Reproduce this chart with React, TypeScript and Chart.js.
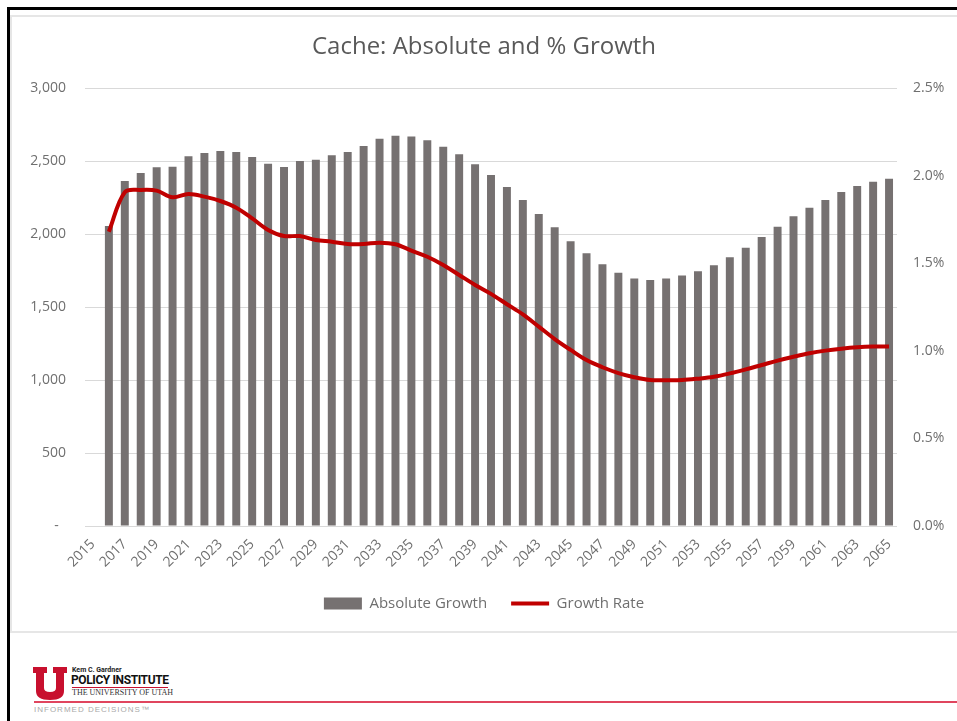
import React, { useEffect, useRef } from "react";
import { Chart, registerables } from "chart.js";

Chart.register(...registerables);

const years = [
  "2015", "2016", "2017", "2018", "2019", "2020", "2021", "2022", "2023", "2024",
  "2025", "2026", "2027", "2028", "2029", "2030", "2031", "2032", "2033", "2034",
  "2035", "2036", "2037", "2038", "2039", "2040", "2041", "2042", "2043", "2044",
  "2045", "2046", "2047", "2048", "2049", "2050", "2051", "2052", "2053", "2054",
  "2055", "2056", "2057", "2058", "2059", "2060", "2061", "2062", "2063", "2064",
  "2065",
];

const absoluteGrowth = [
  null, 2055, 2363, 2418, 2457, 2461, 2532, 2555, 2568, 2562,
  2527, 2482, 2459, 2500, 2509, 2539, 2562, 2603, 2653, 2673,
  2667, 2642, 2598, 2546, 2477, 2404, 2322, 2233, 2137, 2046,
  1950, 1868, 1792, 1735, 1695, 1685, 1696, 1715, 1745, 1786,
  1840, 1906, 1979, 2050, 2121, 2180, 2233, 2288, 2329, 2358,
  2379,
];

const growthRate = [
  null, 1.68, 1.905, 1.918, 1.914, 1.876, 1.895, 1.88, 1.855, 1.817,
  1.756, 1.69, 1.655, 1.655, 1.632, 1.623, 1.61, 1.61, 1.617, 1.608,
  1.572, 1.537, 1.49, 1.433, 1.376, 1.325, 1.266, 1.208, 1.138, 1.067,
  1.005, 0.947, 0.906, 0.873, 0.849, 0.833, 0.832, 0.833, 0.841, 0.852,
  0.871, 0.894, 0.919, 0.944, 0.966, 0.986, 1.001, 1.012, 1.02, 1.024,
  1.024,
];

const leftTicks = ["-", "500", "1,000", "1,500", "2,000", "2,500", "3,000"];
const rightTicks = ["0.0%", "0.5%", "1.0%", "1.5%", "2.0%", "2.5%"];

const FONT = "'Open Sans', 'DejaVu Sans', sans-serif";
const TICK_COLOR = "#6f6f6f";

function ChartPanel() {
  const ref = useRef<HTMLCanvasElement | null>(null);
  useEffect(() => {
    if (!ref.current) return;
    const chart = new Chart(ref.current, {
      type: "bar",
      data: {
        labels: years,
        datasets: [
          {
            type: "bar",
            label: "Absolute Growth",
            data: absoluteGrowth,
            backgroundColor: "#767171",
            borderWidth: 0,
            barPercentage: 0.5,
            categoryPercentage: 1,
            yAxisID: "y",
            order: 1,
            pointStyle: "rect",
          } as any,
          {
            type: "line",
            label: "Growth Rate",
            data: growthRate,
            borderColor: "#c00000",
            backgroundColor: "#c00000",
            borderWidth: 4,
            pointRadius: 0,
            tension: 0.35,
            yAxisID: "y2",
            order: 0,
            pointStyle: "line",
          } as any,
        ],
      },
      options: {
        animation: false,
        responsive: false,
        maintainAspectRatio: false,
        layout: { padding: { left: 0, right: 0, top: 0, bottom: 10 } },
        plugins: {
          title: {
            display: true,
            text: "Cache: Absolute and % Growth",
            color: "#595959",
            font: { family: FONT, size: 24, weight: "normal" },
            padding: { top: 16, bottom: 26.2 },
          },
          legend: {
            position: "bottom",
            labels: {
              usePointStyle: true,
              pointStyleWidth: 38,
              boxHeight: 12,
              padding: 24,
              color: TICK_COLOR,
              font: { family: FONT, size: 15 },
              sort: (a: any, b: any) => a.datasetIndex - b.datasetIndex,
            },
          },
          tooltip: { enabled: false },
        },
        scales: {
          x: {
            offset: true,
            grid: { display: false },
            border: { display: false },
            ticks: {
              autoSkip: false,
              maxRotation: 45,
              minRotation: 45,
              color: TICK_COLOR,
              font: { family: FONT, size: 14 },
              padding: 2,
              callback: (_v: any, i: number) => (i % 2 === 0 ? years[i] : ""),
            },
            afterFit: (s: any) => {
              s.height = 46;
            },
          },
          y: {
            position: "left",
            min: 0,
            max: 3000,
            grid: { color: "#d9d9d9", lineWidth: 1, drawTicks: false },
            border: { display: false },
            ticks: {
              stepSize: 500,
              color: TICK_COLOR,
              font: { family: FONT, size: 14 },
              padding: 19,
              callback: (_v: any, i: number) =>
                leftTicks[i] === "-" ? "-  " : leftTicks[i],
            },
            afterFit: (s: any) => {
              s.width = 74;
            },
          },
          y2: {
            position: "right",
            min: 0,
            max: 2.5,
            grid: { display: false, drawTicks: false },
            border: { display: false },
            ticks: {
              stepSize: 0.5,
              color: TICK_COLOR,
              font: { family: FONT, size: 14 },
              padding: 16,
              callback: (_v: any, i: number) => rightTicks[i],
            },
            afterFit: (s: any) => {
              s.width = 60;
            },
          },
        },
      } as any,
    });
    return () => chart.destroy();
  }, []);
  return <canvas ref={ref} width={946} height={614} style={{ display: "block" }} />;
}

function Logo() {
  return (
    <div style={{ position: "absolute", left: 0, top: 0 }}>
      <svg
        width={34}
        height={34}
        viewBox="0 0 34 34"
        style={{ position: "absolute", left: 33, top: 667 }}
      >
        <path
          d="M0 0 H14 V6 H11 V21 Q11 25 17 25 Q23 25 23 21 V6 H20 V0 H34 V6 H31 V24 Q31 33 17 33 Q3 33 3 24 V6 H0 Z"
          fill="#c8102e"
        />
      </svg>
      <div
        style={{
          position: "absolute",
          left: 72,
          top: 666,
          fontFamily: "'Liberation Sans Narrow', 'Roboto', sans-serif",
          fontSize: 7,
          fontWeight: "bold",
          color: "#222",
          whiteSpace: "nowrap",
        }}
      >
        Kem C. Gardner
      </div>
      <div
        style={{
          position: "absolute",
          left: 71,
          top: 673,
          fontFamily: "'Roboto', 'Liberation Sans', sans-serif",
          fontSize: 12,
          fontWeight: "bold",
          color: "#111",
          letterSpacing: -0.4,
          whiteSpace: "nowrap",
        }}
      >
        POLICY INSTITUTE
      </div>
      <div
        style={{
          position: "absolute",
          left: 72,
          top: 687,
          width: 96,
          height: 1,
          background: "#c8102e",
        }}
      />
      <div
        style={{
          position: "absolute",
          left: 72,
          top: 688,
          fontFamily: "'Liberation Serif', serif",
          fontSize: 8,
          color: "#333",
          whiteSpace: "nowrap",
        }}
      >
        THE UNIVERSITY OF UTAH
      </div>
      <div
        style={{
          position: "absolute",
          left: 34,
          top: 701,
          width: 923,
          height: 2,
          background: "#e0455e",
        }}
      />
      <div
        style={{
          position: "absolute",
          left: 34,
          top: 705,
          fontFamily: "'Liberation Sans', sans-serif",
          fontSize: 8,
          letterSpacing: 1,
          color: "#a9a9a9",
          whiteSpace: "nowrap",
        }}
      >
        INFORMED DECISIONS™
      </div>
    </div>
  );
}

export default function App() {
  return (
    <div
      style={{
        position: "absolute",
        left: 0,
        top: 0,
        width: 957,
        height: 721,
        overflow: "hidden",
        background: "#fff",
      }}
    >
      <div
        style={{
          position: "absolute",
          left: 7,
          top: 7,
          width: 960,
          height: 720,
          borderTop: "3px solid #000",
          borderLeft: "3px solid #000",
        }}
      />
      <div
        style={{
          position: "absolute",
          left: 10,
          top: 15,
          width: 960,
          height: 614,
          border: "2px solid #e6e6e6",
          background: "#fff",
        }}
      />
      <div style={{ position: "absolute", left: 11, top: 17 }}>
        <ChartPanel />
      </div>
      <Logo />
    </div>
  );
}
